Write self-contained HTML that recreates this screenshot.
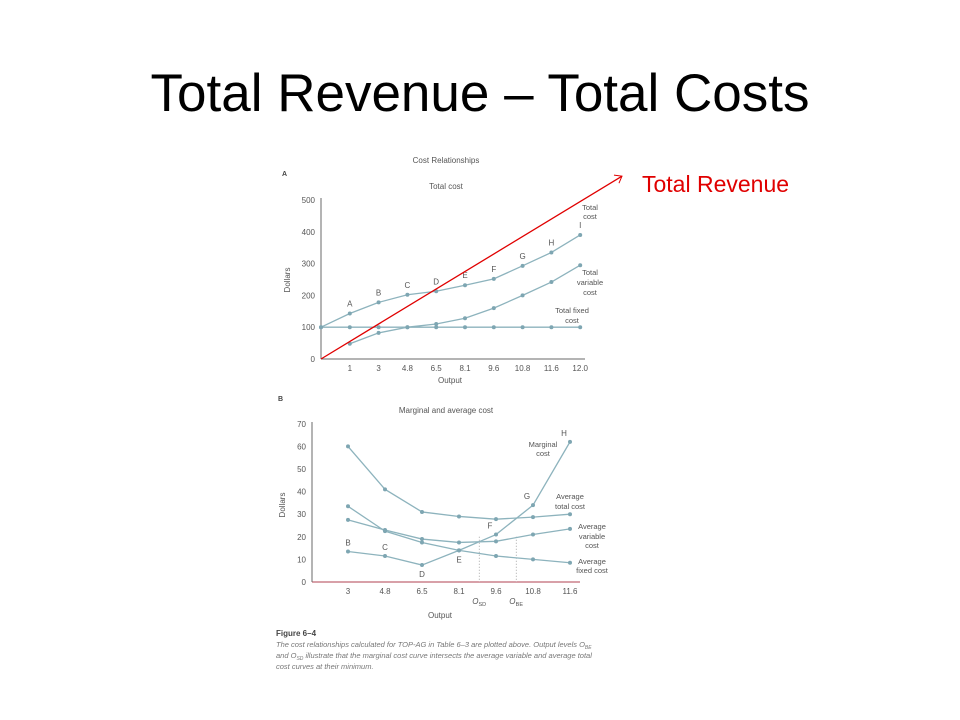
<!DOCTYPE html>
<html><head><meta charset="utf-8"><style>
body{margin:0;width:960px;height:720px;background:#fff;overflow:hidden;font-family:"Liberation Sans",sans-serif}
#title{position:absolute;left:0;width:960px;top:64px;text-align:center;font-size:53px;color:#000;line-height:60px}
svg{position:absolute;left:0;top:0}
</style></head><body>
<div id="title">Total Revenue – Total Costs</div>
<svg id="s" width="960" height="720" font-family="Liberation Sans, sans-serif">
<text x="446" y="163" font-size="8" fill="#555" text-anchor="middle">Cost Relationships</text>
<text x="282" y="176" font-size="7" fill="#444" font-weight="bold">A</text>
<text x="446" y="189" font-size="8" fill="#555" text-anchor="middle">Total cost</text>
<text x="450" y="383" font-size="8" fill="#555" text-anchor="middle">Output</text>
<text x="290" y="280" font-size="8" fill="#555" text-anchor="middle" transform="rotate(-90 290 280)">Dollars</text>
<text x="278" y="401" font-size="7" fill="#444" font-weight="bold">B</text>
<text x="446" y="413" font-size="8" fill="#555" text-anchor="middle">Marginal and average cost</text>
<text x="440" y="618" font-size="8" fill="#555" text-anchor="middle">Output</text>
<text x="285" y="505" font-size="8" fill="#555" text-anchor="middle" transform="rotate(-90 285 505)">Dollars</text>
<g font-size="7.5" fill="#777" font-style="italic">
<text x="276" y="636" font-style="normal" font-weight="bold" fill="#444" font-size="8">Figure 6–4</text>
<text x="276" y="647">The cost relationships calculated for TOP-AG in Table 6–3 are plotted above. Output levels O<tspan font-size="5" dy="2">BE</tspan></text>
<text x="276" y="658">and O<tspan font-size="5" dy="2">SD</tspan><tspan dy="-2"> illustrate that the marginal cost curve intersects the average variable and average total</tspan></text>
<text x="276" y="669">cost curves at their minimum.</text>
</g>
<text x="642" y="192" font-size="23" fill="#e00000">Total Revenue</text>
</svg>
<script>
const aCats=["","1","3","4.8","6.5","8.1","9.6","10.8","11.6","12.0"];
const aTicks=[0,100,200,300,400,500];
const totalCost=[100,143,178,202,213,232,252,293,335,390];
const totalVar=[null,48,82,100,110,128,160,200,242,295];
const totalFixed=[100,100,100,100,100,100,100,100,100,100];
const tcLetters=["","A","B","C","D","E","F","G","H","I"];
const revenueEnd=[10.45,575];
const bCats=["3","4.8","6.5","8.1","9.6","10.8","11.6"];
const bTicks=[0,10,20,30,40,50,60,70];
const mc=[13.5,11.5,7.5,14,21,34,62];
const afc=[33.5,22.5,17.5,14,11.5,10,8.5];
const avc=[27.5,23,19,17.5,18,21,23.5];
const atc=[60,41,31,29,27.8,28.7,30];
const mcLetters=["B","C","D","E","F","G","H"];
const S=document.getElementById('s'),NS="http://www.w3.org/2000/svg";
function el(t,a,txt){const e=document.createElementNS(NS,t);for(const k in a)e.setAttribute(k,a[k]);if(txt!=null)e.textContent=txt;S.appendChild(e);return e;}
const LC="#8db3bd",AX="#6a6a6a";
const ax=i=>321+i*28.8, ay=v=>359-v*0.318;
let e=el('line',{x1:321,y1:359,x2:585,y2:359,stroke:AX});

e=el('line',{x1:321,y1:359,x2:321,y2:198,stroke:AX});

aTicks.forEach(t=>{const l=el('text',{x:315,y:ay(t)+3,'font-size':8,fill:'#555','text-anchor':'end'},t);
});
aCats.forEach((c,i)=>{if(!c)return;const l=el('text',{x:ax(i),y:371,'font-size':8,fill:'#555','text-anchor':'middle'},c);
});
function series(arr,xf,yf,name){const pts=[];arr.forEach((v,i)=>{if(v!=null)pts.push([xf(i),yf(v)]);});
const p=el('polyline',{points:pts.map(p=>p.join(',')).join(' '),fill:'none',stroke:LC,'stroke-width':1.3});

pts.forEach(q=>{const c=el('circle',{cx:q[0],cy:q[1],r:2,fill:'#7ea6b2'});
});}
series(totalFixed,ax,ay,'total-fixed-cost');
series(totalVar,ax,ay,'total-variable-cost');
series(totalCost,ax,ay,'total-cost');
totalCost.forEach((v,i)=>{if(!tcLetters[i])return;const l=el('text',{x:ax(i),y:ay(v)-7,'font-size':8,fill:'#555','text-anchor':'middle'},tcLetters[i]);
});
[["Total",590,210],["cost",590,219],["Total",590,275],["variable",590,285],["cost",590,295],["Total fixed",572,313],["cost",572,323]].forEach(d=>{
const l=el('text',{x:d[1],y:d[2],'font-size':7.5,fill:'#555','text-anchor':'middle'},d[0]);
});
const rx=ax(revenueEnd[0]),ry=ay(revenueEnd[1]);
e=el('line',{x1:ax(0),y1:ay(0),x2:rx,y2:ry,stroke:'#e00000','stroke-width':1.3});

e=el('polyline',{points:`${rx-8},${ry-1} ${rx},${ry} ${rx-3},${ry+7}`,fill:'none',stroke:'#e00000','stroke-width':1});

const bx=i=>348+i*37, by=v=>582-v*2.26;
e=el('line',{x1:312,y1:582,x2:580,y2:582,stroke:'#b04050'});

e=el('line',{x1:312,y1:582,x2:312,y2:422,stroke:AX});

bTicks.forEach(t=>{const l=el('text',{x:306,y:by(t)+3,'font-size':8,fill:'#555','text-anchor':'end'},t);
});
bCats.forEach((c,i)=>{const l=el('text',{x:bx(i),y:594,'font-size':8,fill:'#555','text-anchor':'middle'},c);
});
[[3.55,"O",'SD'],[4.55,"O",'BE']].forEach(d=>{const x=bx(d[0]);
const l=el('line',{x1:x,y1:by(20),x2:x,y2:582,stroke:'#aaa','stroke-dasharray':'1,2'});

const t=el('text',{x:x-4,y:604,'font-size':8,fill:'#555','font-style':'italic','text-anchor':'middle'},d[1]);

const s=el('text',{x:x+3,y:606,'font-size':5.5,fill:'#555','text-anchor':'middle'},d[2]);
});
series(afc,bx,by,'average-fixed-cost');
series(avc,bx,by,'average-variable-cost');
series(atc,bx,by,'average-total-cost');
series(mc,bx,by,'marginal-cost');
mc.forEach((v,i)=>{const up=i<2||i>3;const l=el('text',{x:bx(i)-(i>3?6:0),y:up?by(v)-6:by(v)+12,'font-size':8,fill:'#555','text-anchor':'middle'},mcLetters[i]);
});
[["Marginal",543,447],["cost",543,456],["Average",570,499],["total cost",570,509],["Average",592,529],["variable",592,539],["cost",592,548],["Average",592,564],["fixed cost",592,573]].forEach(d=>{
const l=el('text',{x:d[1],y:d[2],'font-size':7.5,fill:'#555','text-anchor':'middle'},d[0]);
});
</script>
</body></html>
